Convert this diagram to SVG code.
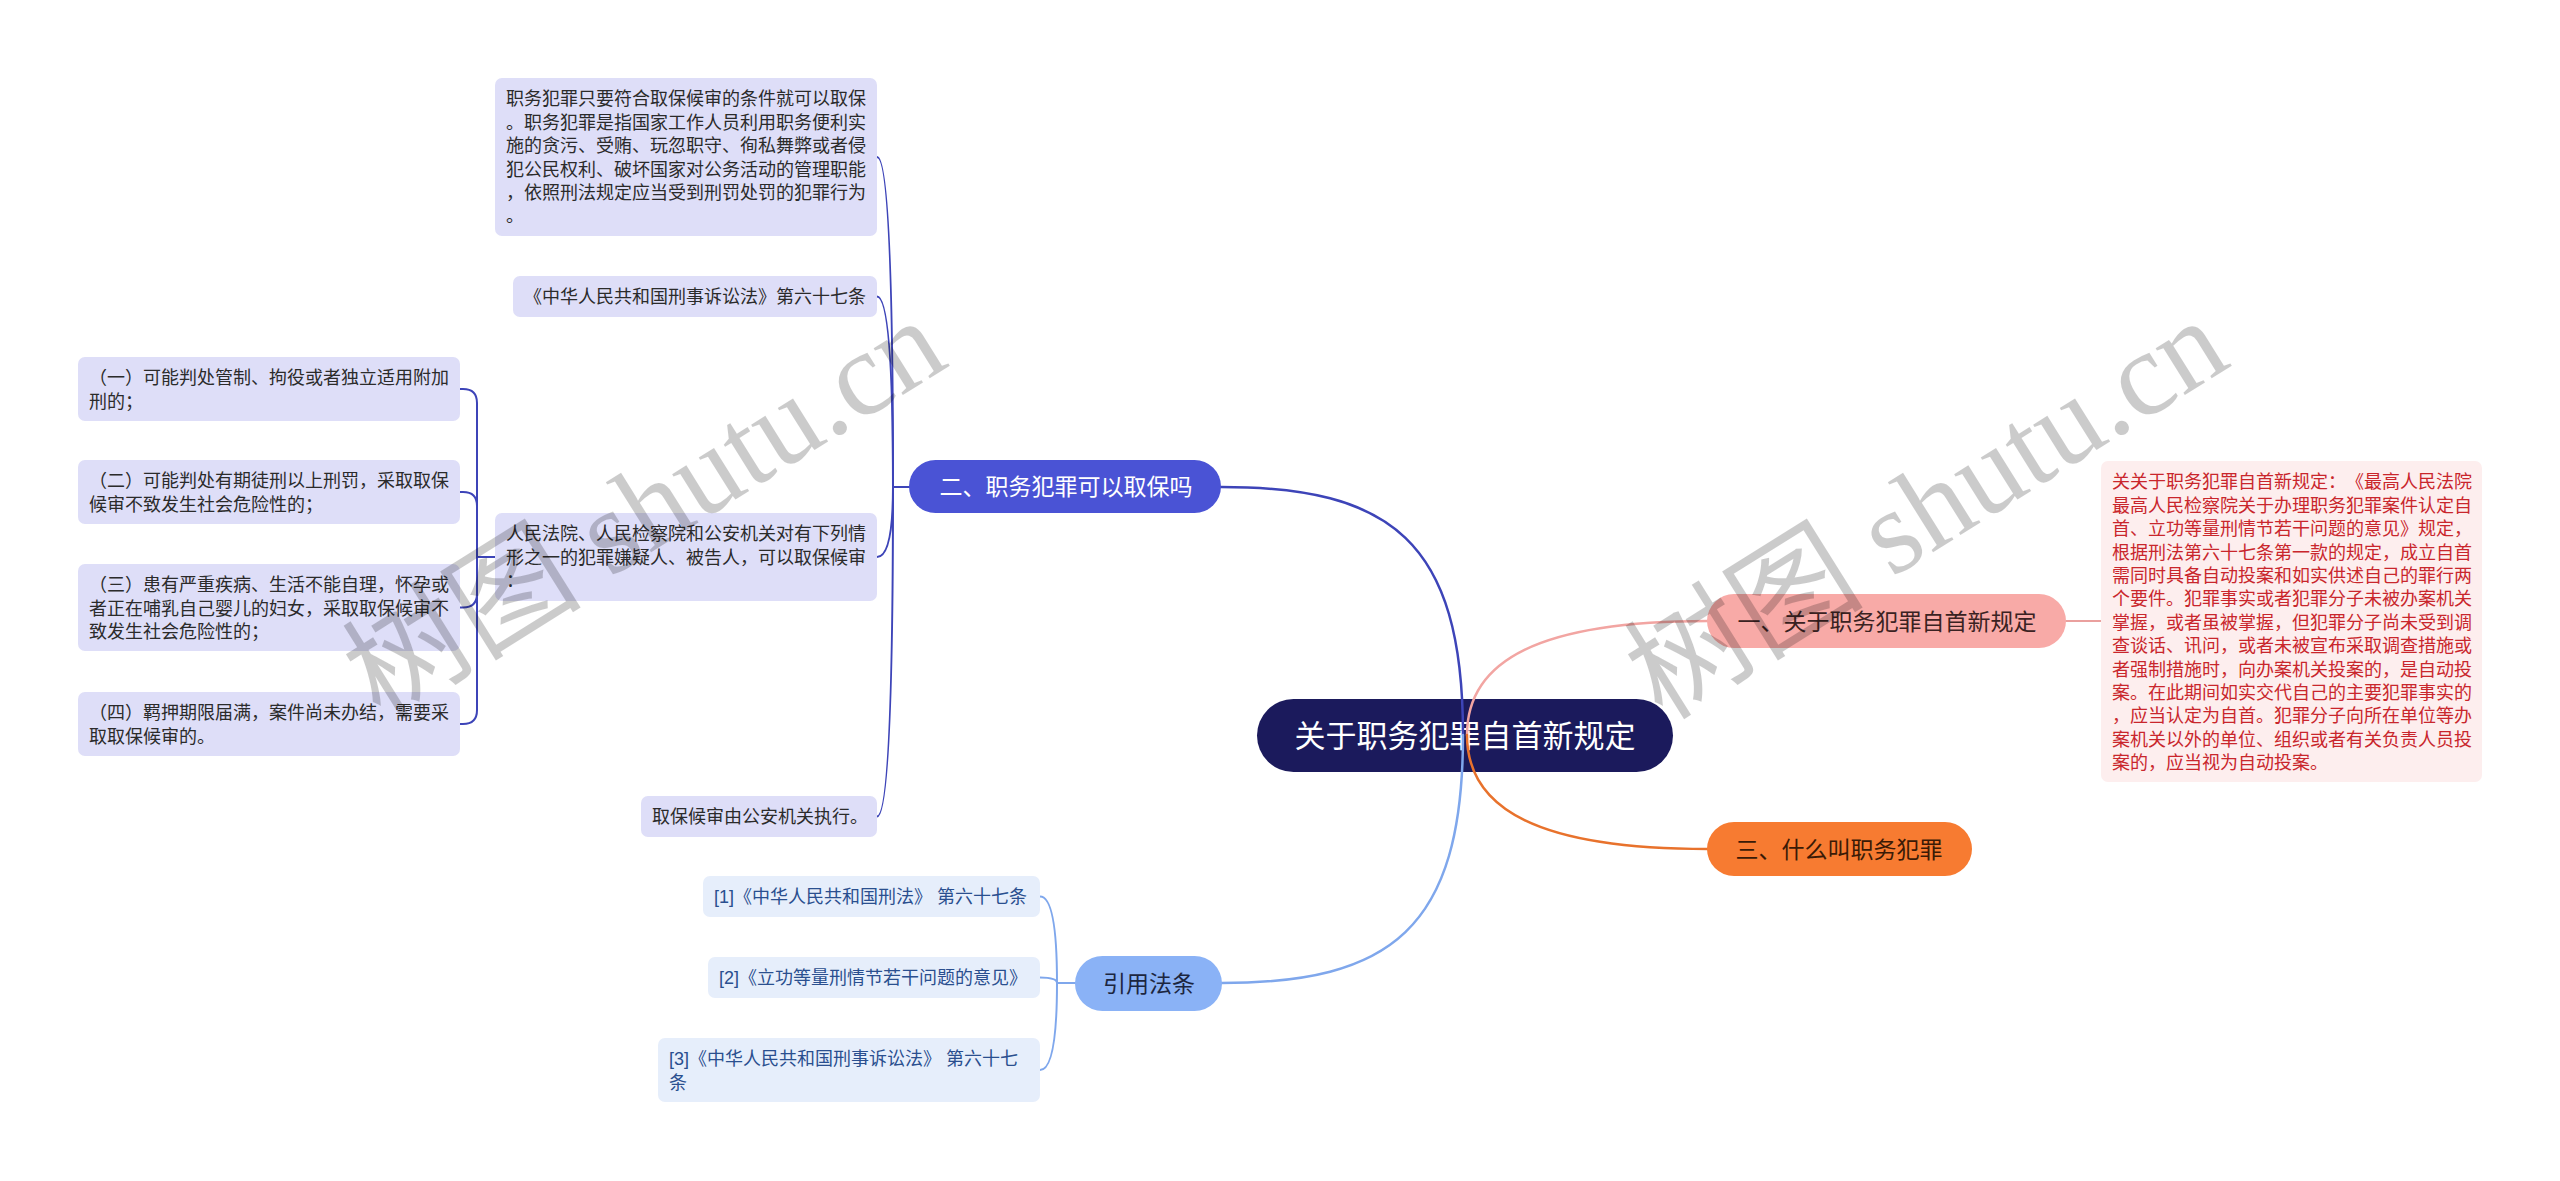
<svg xmlns="http://www.w3.org/2000/svg" width="2560" height="1181" viewBox="0 0 2560 1181">
<style>
text{font-family:"Liberation Sans","Noto Sans CJK SC",sans-serif;text-spacing-trim:space-all;}
.bt{font-size:18px;fill:#2b2b2b;}
.bl{fill:#dedef8;}
.rf{fill:#e6eefb;}
.rt{font-size:18px;fill:#2a4f8f;}
.dt{font-size:18px;fill:#c9262c;}
.nt{font-size:23px;text-anchor:middle;}
.c{fill:none;stroke-linecap:round;}
.wm{font-family:"Liberation Serif","Noto Sans CJK SC",serif;font-size:120px;fill:#000;opacity:0.2;text-anchor:middle;}
</style>
<rect width="2560" height="1181" fill="#ffffff"/>

<g id="root">
<rect x="1257" y="699" width="416" height="73" rx="36.5" fill="#1b1a5c"/>
<text x="1465" y="746.5" style="font-size:31px;fill:#ffffff;text-anchor:middle">关于职务犯罪自首新规定</text>
</g>

<g id="connectors">
<path class="c" d="M1463,735 C1463,540 1390,487 1221,487" stroke="#3d44b8" stroke-width="2.5"/>
<path class="c" d="M1463,735 C1463,930 1390,983 1221,983" stroke="#7fa7ec" stroke-width="2.5"/>
<path class="c" d="M1467,735 C1467,660 1540,621 1708,621" stroke="#f2a5a2" stroke-width="2.5"/>
<path class="c" d="M1467,735 C1467,810 1540,849 1708,849" stroke="#e8722c" stroke-width="2.5"/>
<path class="c" d="M2066,621 L2101,621" stroke="#eaa09e" stroke-width="2"/>
<g stroke="#3d44b8" stroke-width="2">
<path class="c" d="M909,487 L893,487 Q893,157 877,157"/>
<path class="c" d="M909,487 L893,487 Q893,296.5 877,296.5"/>
<path class="c" d="M909,487 L893,487 Q893,557 877,557"/>
<path class="c" d="M909,487 L893,487 Q893,816.5 877,816.5"/>
<path class="c" d="M495,557 L477,557 L477,403 Q477,389 463,389 L460,389"/>
<path class="c" d="M495,557 L477,557 L477,506 Q477,492 463,492 L460,492"/>
<path class="c" d="M495,557 L477,557 L477,593.5 Q477,607.5 463,607.5 L460,607.5"/>
<path class="c" d="M495,557 L477,557 L477,710 Q477,724 463,724 L460,724"/>
</g>
<g stroke="#7fa7ec" stroke-width="2">
<path class="c" d="M1075,983 L1057,983 Q1057,896.5 1040,896.5"/>
<path class="c" d="M1075,983 L1057,983 Q1057,977.5 1040,977.5"/>
<path class="c" d="M1075,983 L1057,983 Q1057,1070 1040,1070"/>
</g>
</g>

<g id="n2">
<rect x="909" y="460" width="312" height="53" rx="26.5" fill="#4a53d5"/>
<text class="nt" x="1066" y="495" fill="#ffffff">二、职务犯罪可以取保吗</text>
</g>
<g id="nref">
<rect x="1075" y="956" width="147" height="55" rx="27.5" fill="#8ab2f6"/>
<text class="nt" x="1149" y="991.5" fill="#1c2640">引用法条</text>
</g>
<g id="n1">
<rect x="1707" y="594" width="359" height="54" rx="27" fill="#f8aaa7"/>
<text class="nt" x="1887" y="629.5" fill="#3a2222">一、关于职务犯罪自首新规定</text>
</g>
<g id="n3">
<rect x="1707" y="822" width="265" height="54" rx="27" fill="#f77b31"/>
<text class="nt" x="1839" y="857.5" fill="#3a1a06">三、什么叫职务犯罪</text>
</g>

<g id="b1">
<rect class="bl" x="495" y="78" width="382" height="158" rx="7"/>
<text class="bt" y="105.4"><tspan x="506">职务犯罪只要符合取保候审的条件就可以取保</tspan><tspan x="506" dy="23.4">。职务犯罪是指国家工作人员利用职务便利实</tspan><tspan x="506" dy="23.4">施的贪污、受贿、玩忽职守、徇私舞弊或者侵</tspan><tspan x="506" dy="23.4">犯公民权利、破坏国家对公务活动的管理职能</tspan><tspan x="506" dy="23.4">，依照刑法规定应当受到刑罚处罚的犯罪行为</tspan><tspan x="506" dy="23.4">。</tspan></text>
</g>
<g id="b2">
<rect class="bl" x="513" y="276" width="364" height="41" rx="7"/>
<text class="bt" x="524" y="303.4">《中华人民共和国刑事诉讼法》第六十七条</text>
</g>
<g id="b3">
<rect class="bl" x="495" y="513" width="382" height="88" rx="7"/>
<text class="bt" y="540.4"><tspan x="506">人民法院、人民检察院和公安机关对有下列情</tspan><tspan x="506" dy="23.4">形之一的犯罪嫌疑人、被告人，可以取保候审</tspan><tspan x="506" dy="23.4">：</tspan></text>
</g>
<g id="b4">
<rect class="bl" x="641" y="796" width="236" height="41" rx="7"/>
<text class="bt" x="652" y="823.4">取保候审由公安机关执行。</text>
</g>
<g id="c1">
<rect class="bl" x="78" y="357" width="382" height="64" rx="7"/>
<text class="bt" y="384.4"><tspan x="89">（一）可能判处管制、拘役或者独立适用附加</tspan><tspan x="89" dy="23.4">刑的；</tspan></text>
</g>
<g id="c2">
<rect class="bl" x="78" y="460" width="382" height="64" rx="7"/>
<text class="bt" y="487.4"><tspan x="89">（二）可能判处有期徒刑以上刑罚，采取取保</tspan><tspan x="89" dy="23.4">候审不致发生社会危险性的；</tspan></text>
</g>
<g id="c3">
<rect class="bl" x="78" y="564" width="382" height="87" rx="7"/>
<text class="bt" y="591.4"><tspan x="89">（三）患有严重疾病、生活不能自理，怀孕或</tspan><tspan x="89" dy="23.4">者正在哺乳自己婴儿的妇女，采取取保候审不</tspan><tspan x="89" dy="23.4">致发生社会危险性的；</tspan></text>
</g>
<g id="c4">
<rect class="bl" x="78" y="692" width="382" height="64" rx="7"/>
<text class="bt" y="719.4"><tspan x="89">（四）羁押期限届满，案件尚未办结，需要采</tspan><tspan x="89" dy="23.4">取取保候审的。</tspan></text>
</g>

<g id="r1">
<rect class="rf" x="703" y="876" width="337" height="41" rx="7"/>
<text class="rt" x="714" y="903.4">[1]《中华人民共和国刑法》 第六十七条</text>
</g>
<g id="r2">
<rect class="rf" x="708" y="957" width="332" height="41" rx="7"/>
<text class="rt" x="719" y="984.4">[2]《立功等量刑情节若干问题的意见》</text>
</g>
<g id="r3">
<rect class="rf" x="658" y="1038" width="382" height="64" rx="7"/>
<text class="rt" y="1065.4"><tspan x="669">[3]《中华人民共和国刑事诉讼法》 第六十七</tspan><tspan x="669" dy="23.4">条</tspan></text>
</g>

<g id="detail">
<rect x="2101" y="461" width="381" height="321" rx="7" fill="#fdeeee"/>
<text class="dt" y="488.4"><tspan x="2112">关关于职务犯罪自首新规定：《最高人民法院</tspan><tspan x="2112" dy="23.4">最高人民检察院关于办理职务犯罪案件认定自</tspan><tspan x="2112" dy="23.4">首、立功等量刑情节若干问题的意见》规定，</tspan><tspan x="2112" dy="23.4">根据刑法第六十七条第一款的规定，成立自首</tspan><tspan x="2112" dy="23.4">需同时具备自动投案和如实供述自己的罪行两</tspan><tspan x="2112" dy="23.4">个要件。犯罪事实或者犯罪分子未被办案机关</tspan><tspan x="2112" dy="23.4">掌握，或者虽被掌握，但犯罪分子尚未受到调</tspan><tspan x="2112" dy="23.4">查谈话、讯问，或者未被宣布采取调查措施或</tspan><tspan x="2112" dy="23.4">者强制措施时，向办案机关投案的，是自动投</tspan><tspan x="2112" dy="23.4">案。在此期间如实交代自己的主要犯罪事实的</tspan><tspan x="2112" dy="23.4">，应当认定为自首。犯罪分子向所在单位等办</tspan><tspan x="2112" dy="23.4">案机关以外的单位、组织或者有关负责人员投</tspan><tspan x="2112" dy="23.4">案的，应当视为自动投案。</tspan></text>
</g>

<g id="watermark">
<text class="wm" transform="translate(666,543) rotate(-32)">树图 shutu.cn</text>
<text class="wm" transform="translate(1948,543) rotate(-32)">树图 shutu.cn</text>
</g>
</svg>
